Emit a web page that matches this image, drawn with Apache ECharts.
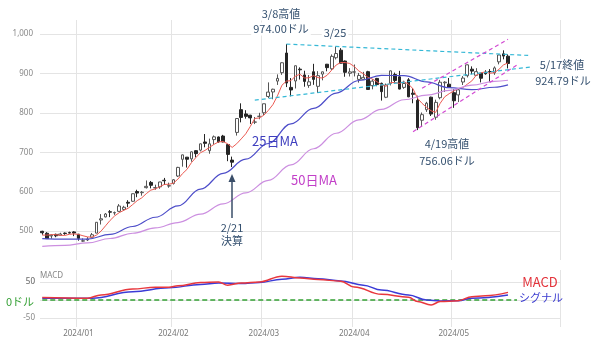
<!DOCTYPE html>
<html><head><meta charset="utf-8">
<script src="https://cdn.jsdelivr.net/npm/echarts@6/dist/echarts.min.js"></script>
<style>html,body{margin:0;padding:0;background:#fff}#c{width:600px;height:338px}</style>
</head><body><div id="c"></div>
<script>
const dates = [
'2023-12-19','2023-12-20','2023-12-21','2023-12-22','2023-12-26','2023-12-27','2023-12-28','2023-12-29',
'2024-01-02','2024-01-03','2024-01-04','2024-01-05','2024-01-08','2024-01-09','2024-01-10','2024-01-11','2024-01-12','2024-01-16','2024-01-17','2024-01-18','2024-01-19','2024-01-22','2024-01-23','2024-01-24','2024-01-25','2024-01-26','2024-01-29','2024-01-30','2024-01-31',
'2024-02-01','2024-02-02','2024-02-05','2024-02-06','2024-02-07','2024-02-08','2024-02-09','2024-02-12','2024-02-13','2024-02-14','2024-02-15','2024-02-16','2024-02-20','2024-02-21','2024-02-22','2024-02-23','2024-02-26','2024-02-27','2024-02-28','2024-02-29',
'2024-03-01','2024-03-04','2024-03-05','2024-03-06','2024-03-07','2024-03-08','2024-03-11','2024-03-12','2024-03-13','2024-03-14','2024-03-15','2024-03-18','2024-03-19','2024-03-20','2024-03-21','2024-03-22','2024-03-25','2024-03-26','2024-03-27','2024-03-28',
'2024-04-01','2024-04-02','2024-04-03','2024-04-04','2024-04-05','2024-04-08','2024-04-09','2024-04-10','2024-04-11','2024-04-12','2024-04-15','2024-04-16','2024-04-17','2024-04-18','2024-04-19','2024-04-22','2024-04-23','2024-04-24','2024-04-25','2024-04-26','2024-04-29','2024-04-30',
'2024-05-01','2024-05-02','2024-05-03','2024-05-06','2024-05-07','2024-05-08','2024-05-09','2024-05-10','2024-05-13','2024-05-14','2024-05-15','2024-05-16','2024-05-17'
];
const padDates = ['2024-05-20','2024-05-21','2024-05-22','2024-05-23','2024-05-24','2024-05-28','2024-05-29','2024-05-30','2024-05-31','2024-06-03','2024-06-04'];

const opens = [499.7,494.8,488.0,491.9,489.7,495.1,496.4,498.1,
492.4,474.85,477.67,484.62,495.12,528.34,536.16,549.2,546.2,550.2,555.2,573.2,575.8,600.5,597.5,610.3,623.5,609.6,612.3,629.0,614.4,
621.0,639.7,682.1,687.5,683.2,704.0,705.3,726.0,704.0,732.0,738.7,741.0,719.5,680.1,750.2,807.9,797.0,793.8,776.2,790.9,
800.0,841.3,852.7,880.2,901.6,951.4,864.3,880.5,910.5,895.8,869.3,903.9,867.0,897.97,923.0,911.4,939.4,958.5,931.1,900.0,
902.99,884.5,884.8,904.1,868.6,887.0,874.5,839.3,874.3,896.99,890.98,864.3,883.4,849.7,831.5,781.0,807.7,839.5,788.7,838.2,875.95,872.4,
850.8,845.2,877.9,893.98,910.4,894.9,900.0,902.7,904.5,901.2,929.0,949.3,943.3];
const highs = [501.0,497.5,492.2,493.8,496.0,496.8,498.8,499.97,
492.95,481.84,485.0,495.47,522.75,543.25,546.0,553.46,549.7,568.6,564.3,578.5,595.4,605.0,601.8,628.5,627.2,617.8,624.9,634.9,623.0,
631.9,663.0,694.0,688.0,702.2,705.2,721.9,746.1,734.5,742.4,739.8,744.0,719.6,688.9,785.75,823.9,806.5,794.8,789.3,799.9,
823.0,876.95,860.97,897.2,927.7,974.0,887.97,919.6,915.0,906.5,895.5,924.0,905.4,904.1,923.67,947.8,967.7,963.75,932.4,913.0,
922.25,900.9,903.7,906.3,884.8,888.3,876.4,874.0,907.0,901.75,906.2,881.2,887.75,861.9,843.2,800.7,827.7,840.8,833.2,883.3,879.99,888.2,
860.2,862.5,892.9,922.4,917.5,913.0,900.7,907.6,910.6,917.4,947.3,958.2,947.9];
const lows = [491.0,481.0,481.1,484.7,489.6,490.9,494.1,487.5,
475.95,473.2,475.08,483.06,494.79,516.9,534.89,535.6,541.3,549.1,551.6,560.8,574.3,586.1,590.0,608.2,608.5,605.0,607.4,617.2,610.0,
618.2,637.2,663.4,661.2,676.0,687.0,702.1,712.5,696.2,719.4,724.0,725.0,677.3,662.5,742.2,775.7,785.0,771.6,771.3,783.5,
794.4,837.2,834.2,870.5,896.0,865.1,841.7,861.5,884.2,866.0,863.2,870.8,850.1,882.2,905.0,908.3,935.1,925.0,891.2,891.9,
892.04,876.3,884.0,858.8,859.3,867.3,830.8,837.1,869.3,875.3,859.3,860.6,839.5,824.0,756.06,764.0,802.2,791.8,782.2,834.1,852.7,863.99,
812.4,827.0,870.3,889.5,897.5,893.3,876.9,896.4,878.0,896.1,922.6,935.3,912.3];
const closes = [496.04,481.11,489.90,488.30,492.79,494.17,495.22,495.22,
481.68,475.69,479.98,490.97,522.53,531.40,543.50,548.22,547.10,563.82,560.53,571.07,594.91,596.54,598.73,613.62,616.17,610.31,624.65,627.74,615.27,
630.27,661.60,693.32,682.23,700.99,696.41,721.33,722.48,721.28,739.00,726.58,726.13,694.52,674.72,785.38,788.17,790.92,787.01,776.63,791.12,
822.79,852.37,859.64,887.00,926.69,875.28,857.74,919.13,908.88,879.44,878.37,884.55,893.98,903.72,914.35,942.89,950.02,925.61,902.50,903.56,
903.63,894.52,889.64,859.05,880.08,871.33,853.54,870.39,906.16,881.86,860.01,874.15,840.35,846.71,762.00,795.18,824.23,796.77,826.32,877.35,877.57,864.02,
830.41,858.17,887.89,921.40,905.54,904.12,887.47,898.78,903.99,913.56,946.30,943.59,924.79];

const ma5 = [490.0,490.1,491.3,491.2,489.6,489.3,492.1,493.1,491.8,488.4,
485.6,484.7,490.2,500.1,513.7,527.3,538.6,546.8,552.6,558.1,
567.5,577.4,584.4,595.0,604.0,607.1,612.7,618.5,618.8,621.6,
631.9,645.6,656.5,673.7,686.9,698.9,704.7,712.5,720.1,726.1,
727.1,721.5,712.2,721.5,733.8,746.7,765.2,785.6,786.8,793.7,
806.0,820.5,842.6,869.7,880.2,881.3,893.2,897.5,888.1,888.7,
894.1,889.0,888.0,895.0,907.9,921.0,927.3,927.1,924.9,917.1,
906.0,898.8,890.1,885.4,878.9,870.7,866.9,876.3,876.7,874.4,
878.5,872.5,860.6,836.6,823.7,813.7,805.0,800.9,824.0,840.4,
848.4,855.1,861.5,863.6,872.4,880.7,895.4,901.3,903.5,900.0,
901.6,910.0,921.2,926.4];
const ma25 = [[0,481.2],[5,479.9],[10,480.0],[15,492.0],[20,511.9],[25,535.3],[30,563.9],[35,606.5],[40,646.5],[45,682.3],[50,722.1],[55,772.0],[60,811.0],[65,849.8],[70,881.7],[75,894.6],[80,894.1],[85,878.0],[90,863.5],[95,858.4],[100,864.6],[103,870.8]];
const ma50 = [[0,461.6],[5,464.3],[10,470.3],[15,481.5],[20,494.8],[25,508.2],[30,521.9],[35,543.3],[40,569.2],[45,597.1],[50,628.7],[55,667.9],[60,708.8],[65,748.1],[70,782.0],[75,808.4],[80,833.0],[85,844.5],[90,856.6],[95,870.0],[100,879.6],[103,882.4]];
const macd = [[0,7],[10,5],[13,13.7],[20,30],[25,35.5],[28,35.5],[30,39],[35,48.4],[39,50],[41,41],[44,47],[48,50],[53,66],[57,61],[61,56.5],[66,52],[69,36],[75,15.6],[81,7.4],[83,-4.6],[86,-13.7],[88,-4.6],[92,-2],[95,9],[98,11.7],[103,21]];
const signal = [[0,5],[11,4.6],[20,22.7],[28,33.6],[35,43],[39,47],[44,45.6],[48,48.4],[53,57.3],[57,63],[61,59],[66,52.7],[71,41],[75,27.3],[81,13.7],[85,0],[88,-2.7],[92,-2],[95,4.6],[103,13.7]];
const trendTop = [[54,974],[108,945]];
const trendBottom = [[47,832],[108,916]];
const channelTop = [[84,862],[103,986]];
const channelBottom = [[82,752],[105,921]];
const zeroLine = [[0,0],[105,0]];
const priceTicks = [500,600,700,800,900,1000];
const macdTicks = [-50,0,50];

const cats = dates.concat(padDates);
const candle = dates.map((d,i)=>[opens[i], closes[i], lows[i], highs[i]]);
const isMonthStart = i => i>0 && i<dates.length && cats[i].slice(5,7)!==cats[i-1].slice(5,7);
const GRID = '#e4e4e4';
const JP = '"Noto Sans CJK JP"';

function xAx(gi, showLabel){
  return {type:'category', data:cats, gridIndex:gi, boundaryGap:true,
    axisLine:{show:false}, axisTick:{show:false},
    axisLabel:{show:showLabel, interval:(i)=>isMonthStart(i), color:'#777', fontSize:8, margin:3, fontFamily:'Noto Sans',
      formatter:v=>v.slice(0,4)+'/'+v.slice(5,7)},
    splitLine:{show:true, interval:(i)=>isMonthStart(i), lineStyle:{color:GRID, width:1}}};
}
function ln(data, color, width, xi, extra){
  return Object.assign({type:'line', data, xAxisIndex:xi, yAxisIndex:xi, symbol:'none', silent:true,
    lineStyle:{color, width}, z:3}, extra||{});
}
const option = {
  animation:false,
  backgroundColor:'#fff',
  grid:[{left:40,right:40,top:20,height:240},{left:40,right:40,top:270,height:57}],
  xAxis:[xAx(0,false), xAx(1,true)],
  yAxis:[
    {type:'value', gridIndex:0, min:427, max:1035, axisLine:{show:false},
     axisTick:{show:false, customValues:priceTicks},
     axisLabel:{customValues:priceTicks, color:'#888', fontSize:8, margin:7, fontFamily:'Noto Sans', formatter:v=>Number(v).toLocaleString('en-US')},
     splitLine:{lineStyle:{color:GRID}}},
    {type:'value', gridIndex:1, min:-75, max:83, axisLine:{show:false},
     axisTick:{show:false, customValues:macdTicks},
     axisLabel:{customValues:macdTicks, color:'#888', fontSize:8, margin:5, fontFamily:'Noto Sans',
       formatter:v=> Math.abs(Number(v))>1 ? String(Math.round(Number(v))) : ''},
     splitLine:{lineStyle:{color:GRID}}}
  ],
  series:[
    {type:'candlestick', data:candle, xAxisIndex:0, yAxisIndex:0, barWidth:'72%', silent:true,
     itemStyle:{color:'#ffffff', color0:'#262626', borderColor:'#555', borderColor0:'#262626', borderWidth:1}, z:2},
    ln(ma5, '#ec5a52', 1, 0),
    ln(ma25, '#4d4dc9', 1.2, 0, {smooth:0.4, smoothMonotone:'x'}),
    ln(ma50, '#cc8fe0', 1.2, 0, {smooth:0.4, smoothMonotone:'x'}),
    ln(trendTop, '#35b8d6', 1.2, 0, {lineStyle:{color:'#35b8d6', width:1.2, type:[4,3]}, z:4}),
    ln(trendBottom, '#35b8d6', 1.2, 0, {lineStyle:{color:'#35b8d6', width:1.2, type:[4,3]}, z:4}),
    ln(channelTop, '#d24ad2', 1.2, 0, {lineStyle:{color:'#d24ad2', width:1.2, type:[4,3]}, z:4}),
    ln(channelBottom, '#d24ad2', 1.2, 0, {lineStyle:{color:'#d24ad2', width:1.2, type:[4,3]}, z:4}),
    ln(zeroLine, '#33a133', 1.5, 1, {lineStyle:{color:'#33a133', width:1.5, type:[5,3]}}),
    ln(signal, '#3b3bd6', 1.5, 1, {smooth:0.4, smoothMonotone:'x'}),
    ln(macd, '#e8373d', 1.5, 1, {smooth:0.4, smoothMonotone:'x'})
  ],
  graphic:[]
};
const DARK = '#34506f';
function txt(x,y,s,color,size,bg){
  return {type:'text', x, y, z:100, silent:true,
    style:{text:s, fill:color, font:size+'px '+JP, align:'center', verticalAlign:'middle',
      backgroundColor:bg?'#fff':null, padding:bg?[1,2]:0}};
}
option.graphic = [
  txt(281,14,'3/8高値',DARK,11,true),
  txt(281,29,'974.00ドル',DARK,11,true),
  txt(335,33,'3/25',DARK,11,true),
  txt(562,65,'5/17終値',DARK,11,true),
  txt(563,81,'924.79ドル',DARK,11,true),
  txt(447,144,'4/19高値',DARK,11,true),
  txt(447,161,'756.06ドル',DARK,11,true),
  txt(275,141,'25日MA','#3f3fbf',13,false),
  txt(314,180,'50日MA','#c23fc8',13,false),
  txt(232,228,'2/21',DARK,11,false),
  txt(232,241,'決算',DARK,11,false),
  txt(540,282,'MACD','#e3323a',13,false),
  txt(541,298,'シグナル','#3b3bd0',11,false),
  txt(20,302,'0ドル','#35a035',11,false),
  {type:'text', x:35, y:282, z:100, silent:true, style:{text:'50', fill:'#888', font:'8px "Noto Sans"', align:'right', verticalAlign:'middle'}},
  {type:'text', x:40, y:276, z:100, silent:true, style:{text:'MACD', fill:'#888', font:'8px "Noto Sans"', align:'left', verticalAlign:'middle'}},
  {type:'line', z:100, shape:{x1:232, y1:218, x2:232, y2:180}, style:{stroke:'#3a4e69', lineWidth:1.5}},
  {type:'polygon', z:100, shape:{points:[[232,174],[228.5,182],[235.5,182]]}, style:{fill:'#3a4e69'}}
];
const chart = echarts.init(document.getElementById('c'), null, {renderer:'canvas'});
chart.setOption(option);
</script>
</body></html>
